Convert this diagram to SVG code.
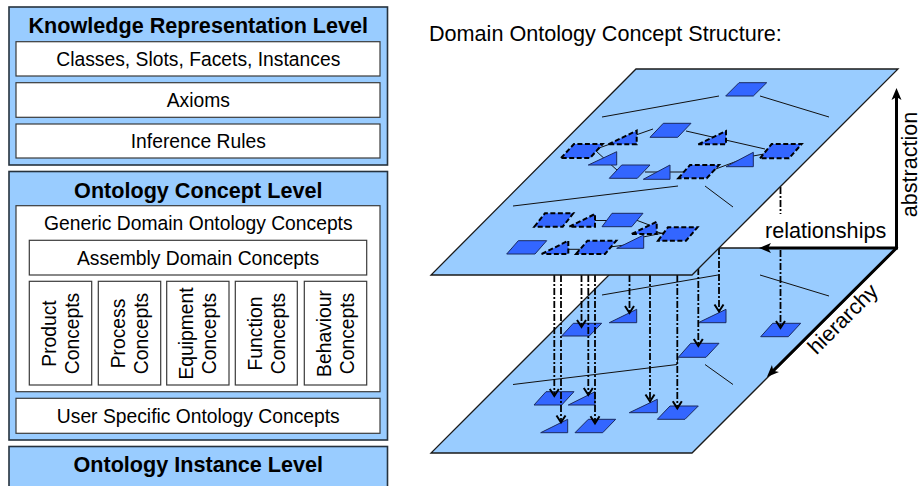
<svg xmlns="http://www.w3.org/2000/svg" width="922" height="486" viewBox="0 0 922 486">
<defs>
<style>
.lvl{fill:#99ccff;stroke:#26323e;stroke-width:1.6}
.box{fill:#fff;stroke:#3a3a3a;stroke-width:1.2}
.t{font-family:"Liberation Sans",Arial,sans-serif;font-size:19.3px;fill:#000;text-anchor:middle}
.h{font-family:"Liberation Sans",Arial,sans-serif;font-size:21.6px;font-weight:bold;fill:#000;text-anchor:middle}
.lab{font-family:"Liberation Sans",Arial,sans-serif;font-size:21.6px;fill:#000}
.plane{fill:#99ccff;stroke:#1a1a1a;stroke-width:1.3}
.c{fill:#3366ff;stroke:#1a2a60;stroke-width:1}
.cd{fill:#3366ff;stroke:#000;stroke-width:2;stroke-dasharray:5,2.5}
.rel{fill:none;stroke:#111;stroke-width:1}
.map{fill:none;stroke:#000;stroke-width:1.8;stroke-dasharray:7,2,2,2}
.axis{fill:none;stroke:#000;stroke-width:3}
</style>
<marker id="v" markerUnits="userSpaceOnUse" viewBox="-10 -6 12 12" refX="0" refY="0" markerWidth="12" markerHeight="12" orient="auto" overflow="visible"><path d="M-7,-4.5 L0,0 L-7,4.5" fill="none" stroke="#000" stroke-width="2"/></marker>
<marker id="ah" markerUnits="userSpaceOnUse" viewBox="-14 -7 16 14" refX="-6" refY="0" markerWidth="16" markerHeight="14" orient="auto-start-reverse" overflow="visible"><path d="M0,0 L-12,-5 L-9,0 L-12,5 Z" fill="#000"/></marker>
</defs>

<g id="knowledge-representation-level">
<rect class="lvl" x="9" y="7" width="378.5" height="158"/>
<text class="h" x="198.3" y="33.3">Knowledge Representation Level</text>
<rect class="box" x="16" y="41.7" width="364" height="34.3"/>
<text class="t" x="198.3" y="65.7">Classes, Slots, Facets, Instances</text>
<rect class="box" x="16" y="82.7" width="364" height="34.6"/>
<text class="t" x="198.3" y="106.7">Axioms</text>
<rect class="box" x="16" y="124" width="364" height="34"/>
<text class="t" x="198.3" y="147.7">Inference Rules</text>
</g>

<g id="ontology-concept-level">
<rect class="lvl" x="9" y="171.5" width="378.5" height="268.5"/>
<text class="h" x="198.3" y="198.3">Ontology Concept Level</text>
<rect class="box" x="16" y="205.7" width="364" height="186"/>
<text class="t" x="198.3" y="230">Generic Domain Ontology Concepts</text>
<rect class="box" x="29.3" y="240.3" width="337.4" height="34.7"/>
<text class="t" x="198" y="265">Assembly Domain Concepts</text>
<rect class="box" x="29.3" y="281.3" width="62.4" height="103.7"/>
<text class="t" transform="translate(60.5,333.5) rotate(-90)"><tspan x="0" y="-4.5">Product</tspan><tspan x="0" y="18.5">Concepts</tspan></text>
<rect class="box" x="98.3" y="281.3" width="62.4" height="103.7"/>
<text class="t" transform="translate(129.5,333.5) rotate(-90)"><tspan x="0" y="-4.5">Process</tspan><tspan x="0" y="18.5">Concepts</tspan></text>
<rect class="box" x="166.7" y="281.3" width="62.3" height="103.7"/>
<text class="t" transform="translate(197.9,333.5) rotate(-90)"><tspan x="0" y="-4.5">Equipment</tspan><tspan x="0" y="18.5">Concepts</tspan></text>
<rect class="box" x="235.3" y="281.3" width="62" height="103.7"/>
<text class="t" transform="translate(266.3,333.5) rotate(-90)"><tspan x="0" y="-4.5">Function</tspan><tspan x="0" y="18.5">Concepts</tspan></text>
<rect class="box" x="304.3" y="281.3" width="62.4" height="103.7"/>
<text class="t" transform="translate(335.5,333.5) rotate(-90)"><tspan x="0" y="-4.5">Behaviour</tspan><tspan x="0" y="18.5">Concepts</tspan></text>
<rect class="box" x="16" y="398.3" width="364" height="35"/>
<text class="t" x="198.3" y="423.3">User Specific Ontology Concepts</text>
</g>

<g id="ontology-instance-level">
<rect class="lvl" x="9" y="446.5" width="378.5" height="50"/>
<text class="h" x="198.3" y="471.7">Ontology Instance Level</text>
</g>

<text class="lab" x="429" y="41">Domain Ontology Concept Structure:</text>

<g id="lower-plane">
<polygon class="plane" points="636,248 897,248 692,453 431,453"/>
</g>
<g id="connectors-lower">
<path class="rel" d="M602,295 L718,275"/>
<path class="rel" d="M760,275 L829,296"/>
<path class="rel" d="M513,384.5 L677,364.5 L678,357.3"/>
<path class="rel" d="M705,364.5 L733,384.5"/>
</g>
<g id="lower-concepts">
<polygon id="n-r" class="c" points="534,405 546,391.7 574,391.7 561.7,405"/>
<polygon id="n-s" class="c" points="540.7,432.7 567.7,419.3 567.7,432.7"/>
<polygon id="n-t" class="c" points="561.7,336 573.3,323.3 601.7,323.3 589.3,336"/>
<polygon id="n-u" class="c" points="568.3,405 595,391.7 595,405"/>
<polygon id="n-v" class="c" points="575,432.7 588.3,419.3 615.7,419.3 602.7,432.7"/>
<polygon id="n-w" class="c" points="609.3,322.7 636.7,309.3 636.7,322.7"/>
<polygon id="n-x" class="c" points="629.3,412.7 657.3,399.3 657.3,412.7"/>
<polygon id="n-y" class="c" points="657.3,419.3 670,406 698.3,406 685,419.3"/>
<polygon id="n-z" class="c" points="678.3,357.3 690.7,343.3 719,343.3 706,357.3"/>
<polygon id="n-aa" class="c" points="698.3,322.7 726,309.3 726,322.7"/>
<polygon id="n-bb" class="c" points="760.7,336.7 772.7,323.3 800.7,323.3 788.3,336.7"/>
</g>
<g id="connectors">
<path class="map" d="M554.3,275 V396" marker-end="url(#v)"/>
<path class="map" d="M561,275 V422.5" marker-end="url(#v)"/>
<path class="map" d="M581.5,275 V327" marker-end="url(#v)"/>
<path class="map" d="M588.3,275 V395" marker-end="url(#v)"/>
<path class="map" d="M595,275 V423.3" marker-end="url(#v)"/>
<path class="map" d="M629.5,275 V313" marker-end="url(#v)"/>
<path class="map" d="M650,275 V401.5" marker-end="url(#v)"/>
<path class="map" d="M677.3,275 V408.3" marker-end="url(#v)"/>
<path class="map" d="M698.3,268 V346" marker-end="url(#v)"/>
<path class="map" d="M719,248 V311.5" marker-end="url(#v)"/>
<path class="map" d="M780.5,187 V214"/>
<path class="map" d="M780.5,250 V328" marker-end="url(#v)"/>
</g>

<g id="upper-plane">
<polygon class="plane" points="636,69 898,69 692,275 431,275"/>
</g>
<g id="connectors-upper">
<path class="rel" d="M602,117 L719,96"/>
<path class="rel" d="M760,96 L829,117"/>
<path class="rel" d="M513,206 L678,186"/>
<path class="rel" d="M705,186 L733,207"/>
<path class="rel" d="M596,149 L653,129"/>
<path class="rel" d="M686,131 L765,149"/>
<path class="rel" d="M596,151 L618,171"/>
<path class="rel" d="M645,172 L684,172"/>
<path class="rel" d="M713,170 L740,160"/>
<path class="rel" d="M753,156 L764,154"/>
<path class="rel" d="M590,220.5 L608,220.5"/>
<path class="rel" d="M636,220 L652,226"/>
<path class="rel" d="M650,230 L668,235"/>
<path class="rel" d="M565,249.3 L582,249.3"/>
<path class="rel" d="M610,247 L625,245"/>
<path class="rel" d="M643,237 L663,233"/>
</g>
<g id="upper-concepts">
<polygon id="n-root" class="c" points="725.7,96 739,82.7 766.7,82.7 753.3,96"/>
<polygon id="n-c" class="c" points="650,137.3 663.3,123.3 691,123.3 677.7,137.3"/>
<polygon id="n-b" class="cd" points="608.3,144.3 636.7,130.7 636.7,144.3"/>
<polygon id="n-a" class="cd" points="561,158 574,144 602.7,144 590,158"/>
<polygon id="n-d" class="c" points="588.3,165 616.7,151.7 616.7,165"/>
<polygon id="n-e" class="c" points="609.3,178.3 621.7,165 650,165 637.3,178.3"/>
<polygon id="n-f" class="c" points="643.3,179.3 670,165 670,179.3"/>
<polygon id="n-g" class="cd" points="678.3,178.3 690,165 719,165 706.7,178.3"/>
<polygon id="n-h" class="c" points="726,166.7 753.3,152.3 753.3,166.7"/>
<polygon id="n-b2" class="cd" points="698.3,144.3 726,131 726,144.3"/>
<polygon id="n-g2" class="cd" points="760,158.3 771.7,144 801.7,144 789,158.3"/>
<polygon id="n-i" class="cd" points="534.3,226.7 545,213.3 573.3,213.3 562.7,226.7"/>
<polygon id="n-j" class="cd" points="569.3,226.7 595,214 595,226.7"/>
<polygon id="n-k" class="c" points="602,226.7 612,213.3 643,213.3 631.7,226.7"/>
<polygon id="n-l" class="cd" points="631.7,234 656.7,221.7 656.7,234"/>
<polygon id="n-m" class="cd" points="658,240.7 668,227.3 697.5,227.3 686,240.7"/>
<polygon id="n-n" class="c" points="506.7,254 518.3,240.7 546.7,240.7 535,254"/>
<polygon id="n-o" class="cd" points="541.7,254 568.3,240.7 568.3,254"/>
<polygon id="n-p" class="cd" points="576,254 587.5,240.7 616.3,240.7 605,254"/>
<polygon id="n-q" class="c" points="616.7,248.3 643.7,235 643.7,248.3"/>
</g>

<g id="axes">
<path class="axis" d="M765,248 H896.5 V94" marker-start="url(#ah)" marker-end="url(#ah)"/>
<path class="axis" d="M896.5,248 L771.2,372.8" marker-end="url(#ah)"/>
<text class="lab" x="765" y="238">relationships</text>
<text class="lab" text-anchor="middle" transform="translate(917,164.5) rotate(-90)">abstraction</text>
<text class="lab" text-anchor="middle" transform="translate(848,324) rotate(-45)">hierarchy</text>
</g>
</svg>
